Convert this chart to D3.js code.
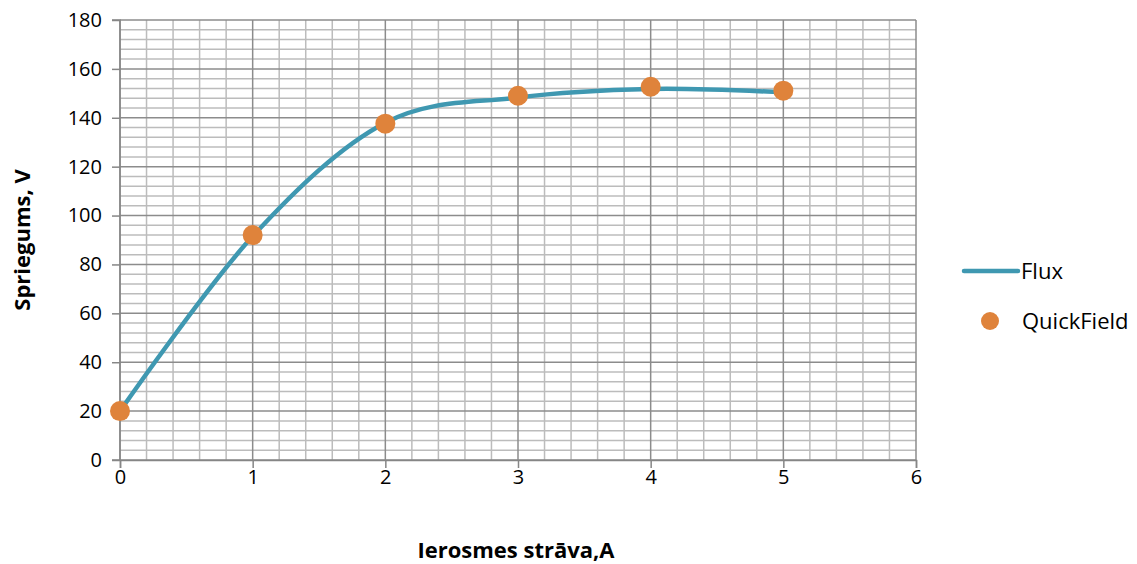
<!DOCTYPE html>
<html><head><meta charset="utf-8">
<script src="https://cdn.jsdelivr.net/npm/d3@7"></script>
<style>
html,body{margin:0;padding:0;background:#fff;}
svg text{font-family:"Open Sans",Lato,sans-serif;fill:#000;}
</style></head>
<body><svg id="c" width="1137" height="564"></svg>
<script>
const xValues = [0, 1, 2, 3, 4, 5];
const fluxValues = [20, 91.5, 138, 148.3, 151.8, 150.4];
const quickFieldValues = [20, 92, 137.6, 149, 152.7, 151.1];
const xTicks = [0, 1, 2, 3, 4, 5, 6];
const yTicks = [0, 20, 40, 60, 80, 100, 120, 140, 160, 180];
const seriesNames = ["Flux", "QuickField"];
const xTitle = "Ierosmes strāva,A";
const yTitle = "Spriegums, V";

const svg = d3.select("#c");
const x = d3.scaleLinear().domain([0, 6]).range([120, 916]);
const y = d3.scaleLinear().domain([0, 180]).range([460, 20]);

const g = svg.append("g");
const xMinor = d3.range(0, 6.0001, 0.2).filter(v => Math.abs(v - Math.round(v)) > 1e-6);
const yMinor = d3.range(0, 180.001, 4).filter(v => v % 20 !== 0);
g.selectAll(".mx").data(xMinor).enter().append("line")
  .attr("x1", d => x(d)).attr("x2", d => x(d)).attr("y1", y(0)).attr("y2", y(180))
  .attr("stroke", "#bcbcbc").attr("stroke-width", 1.5);
g.selectAll(".my").data(yMinor).enter().append("line")
  .attr("x1", x(0)).attr("x2", x(6)).attr("y1", d => y(d)).attr("y2", d => y(d))
  .attr("stroke", "#bcbcbc").attr("stroke-width", 1.5);
g.selectAll(".Mx").data(xTicks).enter().append("line")
  .attr("x1", d => x(d)).attr("x2", d => x(d)).attr("y1", y(0)).attr("y2", y(180))
  .attr("stroke", "#8c8c8c").attr("stroke-width", 1.5);
g.selectAll(".My").data(yTicks).enter().append("line")
  .attr("x1", x(0)).attr("x2", x(6)).attr("y1", d => y(d)).attr("y2", d => y(d))
  .attr("stroke", "#8c8c8c").attr("stroke-width", 1.5);

const yAxis = d3.axisLeft(y).tickValues(yTicks).tickSize(8).tickPadding(10).tickFormat(d3.format("d"));
const xAxis = d3.axisBottom(x).tickValues(xTicks).tickSize(8).tickPadding(2).tickFormat(d3.format("d"));
const ya = svg.append("g").attr("transform", `translate(${x(0)},0)`).call(yAxis);
const xa = svg.append("g").attr("transform", `translate(0,${y(0)})`).call(xAxis);
[ya, xa].forEach(a => {
  a.select(".domain").attr("stroke", "#868686").attr("stroke-width", 1.5);
  a.selectAll(".tick line").attr("stroke", "#868686").attr("stroke-width", 1.5);
  a.selectAll(".tick text").attr("font-size", 20).attr("font-family", "'Open Sans', sans-serif").attr("fill", "#000");
});
ya.select(".domain").attr("d", `M-8,${y(180)}H0V${y(0)}H-8`);
xa.selectAll(".tick text").attr("dy", "0.71em");

const line = d3.line().x((d, i) => x(xValues[i])).y(d => y(d)).curve(d3.curveCardinal.tension(0));
svg.append("path").datum(fluxValues).attr("d", line)
  .attr("fill", "none").attr("stroke", "#3f98b1").attr("stroke-width", 4.5).attr("stroke-linecap", "round");

svg.selectAll(".qf").data(quickFieldValues).enter().append("circle")
  .attr("cx", (d, i) => x(xValues[i])).attr("cy", d => y(d)).attr("r", 10)
  .attr("fill", "#df833b");

svg.append("line").attr("x1", 964).attr("x2", 1018).attr("y1", 271).attr("y2", 271)
  .attr("stroke", "#3f98b1").attr("stroke-width", 4.5).attr("stroke-linecap", "round");
svg.append("text").attr("x", 1021).attr("y", 279).attr("font-size", 22).text(seriesNames[0]);
svg.append("circle").attr("cx", 990).attr("cy", 321).attr("r", 9).attr("fill", "#df833b");
svg.append("text").attr("x", 1022).attr("y", 329).attr("font-size", 22).text(seriesNames[1]);

svg.append("text").attr("x", x(3) - 2).attr("y", 558).attr("text-anchor", "middle")
  .attr("font-size", 22).attr("font-weight", "bold").text(xTitle);
svg.append("text").attr("transform", "translate(30,240) rotate(-90)").attr("text-anchor", "middle")
  .attr("font-size", 22).attr("font-weight", "bold").text(yTitle);
</script></body></html>
